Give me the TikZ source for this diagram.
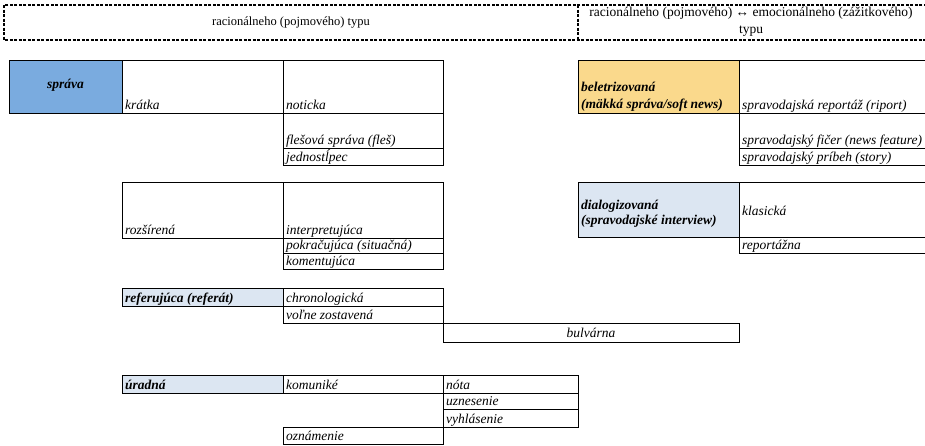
\documentclass[tikz,border=0pt]{standalone}
\usepackage{fontspec}
\setmainfont{Liberation Serif}
\usetikzlibrary{positioning}

\definecolor{spravablue}{RGB}{122,171,223}
\definecolor{softorange}{RGB}{250,217,140}
\definecolor{paleblue}{RGB}{220,230,242}

\begin{document}
\begin{tikzpicture}[x=1pt, y=-1pt, node distance=0pt,
    cell/.style={draw, line width=1pt, rectangle, inner sep=0pt, outer sep=0pt},
    txt/.style={anchor=base west, inner sep=0pt, font=\fontsize{13.5}{16}\selectfont\itshape},
    head/.style={inner sep=0pt, font=\fontsize{13.5}{16.5}\selectfont\bfseries\itshape},
    hdr/.style={line width=1.5pt, dash pattern=on 3pt off 1.5pt},
    hdrtxt/.style={inner sep=0pt, font=\fontsize{12.5}{17}\selectfont}]
  \useasboundingbox (0,0) rectangle (925,445);

  % header
  \coordinate (h1) at (940,5);
  \coordinate (h2) at (4,5);
  \coordinate (h3) at (4,40);
  \coordinate (h4) at (940,40);
  \coordinate (d1) at (578,5);
  \coordinate (d2) at (578,40);
  \draw[hdr] (h1) -- (h2) -- (h3) -- (h4);
  \draw[hdr] (d1) -- (d2);
  \node[hdrtxt] (rac) at (291,22) {racionálneho (pojmového) typu};
  \node[hdrtxt, align=center, font=\fontsize{13.5}{17}\selectfont] (emo) at (751,22) {racionálneho (pojmového) ↔ emocionálneho (zážitkového)\\typu};

  % sprava
  \node[cell, fill=spravablue, minimum width=113pt, minimum height=53pt, anchor=north west] (sprava) at (9,60) {};
  \node[cell, minimum width=161pt, minimum height=53pt, right=of sprava] (kratka) {};
  \node[cell, minimum width=160pt, minimum height=53pt, right=of kratka] (noticka) {};
  \node[cell, minimum width=160pt, minimum height=35pt, below=of noticka] (fles) {};
  \node[cell, minimum width=160pt, minimum height=17pt, below=of fles] (jedno) {};
  \node[head] (t-sprava) at ([yshift=1pt]sprava.center) {správa};
  \node[txt] (t-kratka) at ([shift={(3pt,4pt)}]kratka.south west) {krátka};
  \node[txt] (t-noticka) at ([shift={(3pt,4pt)}]noticka.south west) {noticka};
  \node[txt] (t-fles) at ([shift={(3pt,4pt)}]fles.south west) {flešová správa (fleš)};
  \node[txt] (t-jedno) at ([shift={(3pt,4pt)}]jedno.south west) {jednostĺpec};

  % beletrizovana
  \node[cell, fill=softorange, minimum width=161pt, minimum height=53pt, anchor=north west] (beletr) at (578,60) {};
  \node[cell, minimum width=200pt, minimum height=53pt, right=of beletr] (riport) {};
  \node[cell, minimum width=200pt, minimum height=35pt, below=of riport] (ficer) {};
  \node[cell, minimum width=200pt, minimum height=17pt, below=of ficer] (pribeh) {};
  \node[head, align=left, anchor=south west] (t-beletr) at ([shift={(3pt,1.5pt)}]beletr.south west) {beletrizovaná\\(mäkká správa/soft news)};
  \node[txt] (t-riport) at ([shift={(3pt,4pt)}]riport.south west) {spravodajská reportáž (riport)};
  \node[txt] (t-ficer) at ([shift={(3pt,4pt)}]ficer.south west) {spravodajský fičer (news feature)};
  \node[txt] (t-pribeh) at ([shift={(3pt,4pt)}]pribeh.south west) {spravodajský príbeh (story)};

  % rozsirena
  \node[cell, minimum width=161pt, minimum height=56pt, anchor=north west] (rozsir) at (122,182) {};
  \node[cell, minimum width=160pt, minimum height=56pt, right=of rozsir] (interp) {};
  \node[cell, minimum width=160pt, minimum height=15pt, below=of interp] (pokrac) {};
  \node[cell, minimum width=160pt, minimum height=16pt, below=of pokrac] (koment) {};
  \node[txt] (t-rozsir) at ([shift={(3pt,4pt)}]rozsir.south west) {rozšírená};
  \node[txt] (t-interp) at ([shift={(3pt,4pt)}]interp.south west) {interpretujúca};
  \node[txt] (t-pokrac) at ([shift={(3pt,3.5pt)}]pokrac.south west) {pokračujúca (situačná)};
  \node[txt] (t-koment) at ([shift={(3pt,3.5pt)}]koment.south west) {komentujúca};

  % dialogizovana
  \node[cell, fill=paleblue, minimum width=161pt, minimum height=55pt, anchor=north west] (dialog) at (578,182) {};
  \node[cell, minimum width=200pt, minimum height=55pt, right=of dialog] (klasic) {};
  \node[cell, minimum width=200pt, minimum height=16pt, below=of klasic] (reportaz) {};
  \node[head, align=left, anchor=west, font=\fontsize{13.5}{15.5}\selectfont\bfseries\itshape] (t-dialog) at ([shift={(3pt,-4pt)}]dialog.west) {dialogizovaná\\(spravodajské interview)};
  \node[txt, anchor=west] (t-klasic) at ([shift={(3pt,-1pt)}]klasic.west) {klasická};
  \node[txt] (t-reportaz) at ([shift={(3pt,3.5pt)}]reportaz.south west) {reportážna};

  % referujuca
  \node[cell, fill=paleblue, minimum width=161pt, minimum height=18pt, anchor=north west] (referuj) at (122,288) {};
  \node[cell, minimum width=160pt, minimum height=18pt, right=of referuj] (chrono) {};
  \node[cell, minimum width=160pt, minimum height=17pt, below=of chrono] (volne) {};
  \node[cell, minimum width=296pt, minimum height=19pt, anchor=north west] (bulvar) at (volne.south east) {};
  \node[head, anchor=base west] (t-referuj) at ([shift={(3pt,4pt)}]referuj.south west) {referujúca (referát)};
  \node[txt] (t-chrono) at ([shift={(3pt,4pt)}]chrono.south west) {chronologická};
  \node[txt] (t-volne) at ([shift={(3pt,4pt)}]volne.south west) {voľne zostavená};
  \node[txt, anchor=base] (t-bulvar) at ([yshift=4.5pt]bulvar.south) {bulvárna};

  % uradna
  \node[cell, fill=paleblue, minimum width=161pt, minimum height=18pt, anchor=north west] (uradna) at (122,375) {};
  \node[cell, minimum width=160pt, minimum height=18pt, right=of uradna] (komunike) {};
  \node[cell, minimum width=135pt, minimum height=18pt, right=of komunike] (nota) {};
  \node[cell, minimum width=135pt, minimum height=16pt, below=of nota] (uznes) {};
  \node[cell, minimum width=135pt, minimum height=18pt, below=of uznes] (vyhlas) {};
  \node[cell, minimum width=160pt, minimum height=17pt, anchor=north east] (oznam) at (vyhlas.south west) {};
  \node[head, anchor=base west] (t-uradna) at ([shift={(3pt,4pt)}]uradna.south west) {úradná};
  \node[txt] (t-komunike) at ([shift={(3pt,4pt)}]komunike.south west) {komuniké};
  \node[txt] (t-nota) at ([shift={(3pt,4pt)}]nota.south west) {nóta};
  \node[txt] (t-uznes) at ([shift={(3pt,3.5pt)}]uznes.south west) {uznesenie};
  \node[txt] (t-vyhlas) at ([shift={(3pt,4pt)}]vyhlas.south west) {vyhlásenie};
  \node[txt] (t-oznam) at ([shift={(3pt,4pt)}]oznam.south west) {oznámenie};
\end{tikzpicture}
\end{document}
